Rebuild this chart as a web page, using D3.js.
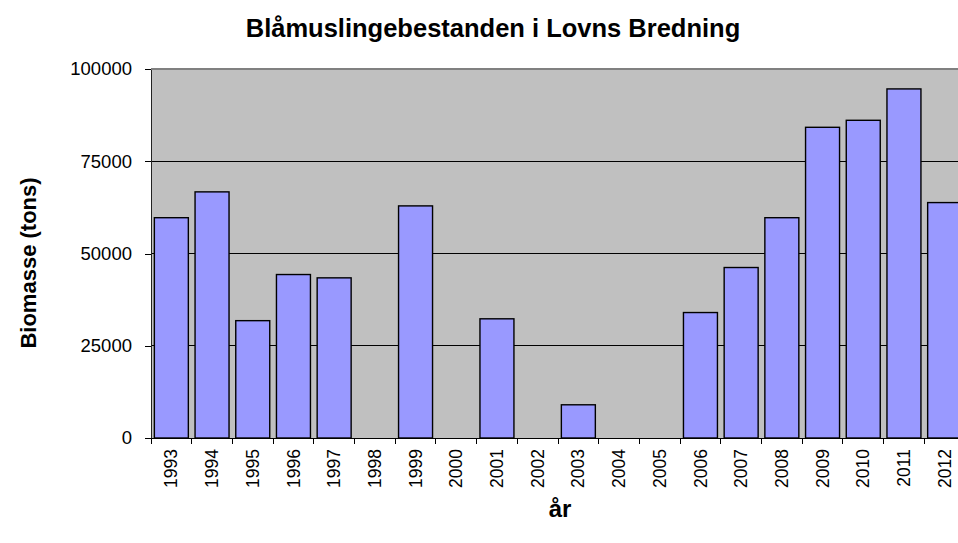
<!DOCTYPE html>
<meta charset="utf-8">
<style>
body { margin: 0; background: #fff; font-family: Arial, "Liberation Sans", sans-serif; }
.axis path, .axis line { fill: none; shape-rendering: crispEdges; }
</style>
<body>
<script src="https://d3js.org/d3.v7.min.js"></script>
<script>

// data
var years = ["1993","1994","1995","1996","1997","1998","1999","2000","2001","2002",
             "2003","2004","2005","2006","2007","2008","2009","2010","2011","2012"];
var biomass = [59700, 66700, 31800, 44300, 43400, null, 62900, null, 32300, null,
               9000, null, null, 34000, 46200, 59700, 84200, 86100, 94600, 63800];
var yTicks = [0, 25000, 50000, 75000, 100000];

var data = years.map(function(d, i) { return {year: d, value: biomass[i]}; });

// canvas
var margin = {top: 69, right: 0, bottom: 105, left: 151},
    width = 814,
    height = 543 - margin.top - margin.bottom;

var svg = d3.select("body")
    .append("svg")
        .attr("width", 958)
        .attr("height", 543)
        .style("display", "block");

var g = svg.append("g")
    .attr("transform", "translate(" + margin.left + "," + margin.top + ")");

// scales
var x = d3.scaleBand().domain(years).range([0, width])
    .paddingInner(0.165).paddingOuter(0.0825);
var xEdge = d3.scaleBand().domain(years).range([0, width]);
var y = d3.scaleLinear().domain([0, 100000]).range([height, 0]);

// plot area
g.append("rect")
    .attr("width", width)
    .attr("height", height)
    .attr("fill", "#c0c0c0");

// gridlines
g.selectAll(".grid")
    .data(yTicks.slice(1))
  .enter().append("line")
    .attr("x1", 0)
    .attr("x2", width)
    .attr("y1", function(d) { return y(d); })
    .attr("y2", function(d) { return y(d); })
    .attr("stroke", function(d) { return d === 100000 ? "#808080" : "#000"; })
    .attr("stroke-width", function(d) { return d === 100000 ? 2 : 1; })
    .style("shape-rendering", "crispEdges");

// bars
g.selectAll(".bar")
    .data(data.filter(function(d) { return d.value != null; }))
  .enter().append("rect")
    .attr("x", function(d) { return x(d.year); })
    .attr("width", x.bandwidth())
    .attr("y", function(d) { return y(d.value); })
    .attr("height", function(d) { return height - y(d.value); })
    .attr("fill", "#9999ff")
    .attr("stroke", "#000")
    .attr("stroke-width", 1.4);

// y axis
var yAxis = g.append("g")
    .attr("class", "axis")
    .call(d3.axisLeft(y).tickValues(yTicks).tickFormat(d3.format("d"))
        .tickSize(6).tickPadding(13).tickSizeOuter(0));
yAxis.select(".domain").attr("stroke", "#222");
yAxis.selectAll("line").attr("stroke", "#000");
yAxis.selectAll("text").style("font-size", "18.5px").attr("fill", "#000")
    .attr("font-family", "Arial, 'Liberation Sans', sans-serif");

// x axis: labels centred on bars, ticks on category edges
var xAxis = g.append("g")
    .attr("class", "axis")
    .attr("transform", "translate(0," + height + ")")
    .call(d3.axisBottom(x).tickSize(0).tickSizeOuter(0));
xAxis.select(".domain").attr("stroke", "#000");
xAxis.selectAll("text")
    .attr("transform", "rotate(-90)")
    .attr("text-anchor", "end")
    .attr("x", -11)
    .attr("y", 0)
    .attr("dy", "0.35em")
    .style("font-size", "17.5px")
    .attr("fill", "#000")
    .attr("font-family", "Arial, 'Liberation Sans', sans-serif");

g.selectAll(".xtick")
    .data(years)
  .enter().append("line")
    .attr("x1", function(d) { return xEdge(d); })
    .attr("x2", function(d) { return xEdge(d); })
    .attr("y1", height)
    .attr("y2", height + 6)
    .attr("stroke", "#000")
    .style("shape-rendering", "crispEdges");

// titles
svg.append("text")
    .attr("x", 493)
    .attr("y", 37)
    .attr("text-anchor", "middle")
    .style("font-size", "25.5px")
    .style("font-weight", "bold")
    .text("Blåmuslingebestanden i Lovns Bredning");

svg.append("text")
    .attr("text-anchor", "middle")
    .attr("transform", "translate(36,263) rotate(-90)")
    .style("font-size", "22px")
    .style("font-weight", "bold")
    .text("Biomasse (tons)");

svg.append("text")
    .attr("x", 560)
    .attr("y", 517)
    .attr("text-anchor", "middle")
    .style("font-size", "24px")
    .style("font-weight", "bold")
    .text("år");

</script>
</body>
